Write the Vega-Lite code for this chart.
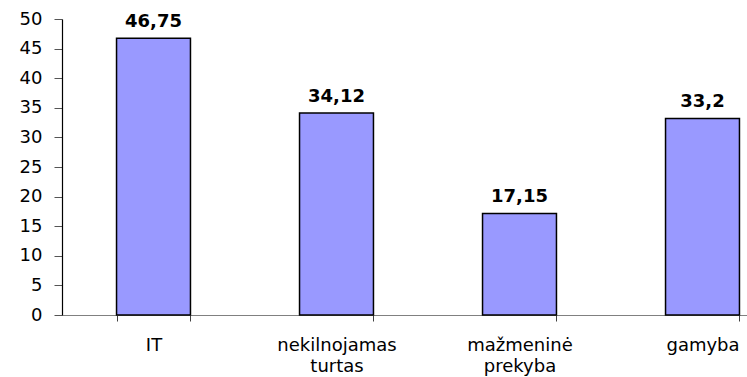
{
  "$schema": "https://vega.github.io/schema/vega-lite/v6.json",
  "width": 685,
  "height": 296,
  "autosize": {"type": "none"},
  "padding": {"left": 62, "top": 19, "right": 0, "bottom": 62},
  "background": "white",
  "config": {
    "view": {"stroke": null},
    "font": "DejaVu Sans",
    "locale": {
      "number": {"decimal": ",", "thousands": " ", "grouping": [3], "currency": ["", " €"]}
    }
  },
  "data": {
    "values": [
      {"sektorius": "IT", "reiksme": 46.75},
      {"sektorius": "nekilnojamas turtas", "reiksme": 34.12},
      {"sektorius": "mažmeninė prekyba", "reiksme": 17.15},
      {"sektorius": "gamyba", "reiksme": 33.2}
    ]
  },
  "encoding": {
    "x": {
      "field": "sektorius",
      "type": "nominal",
      "sort": null,
      "scale": {"range": [0, 732], "paddingInner": 0.596, "paddingOuter": 0.298},
      "axis": {
        "title": null,
        "labelAngle": 0,
        "labelExpr": "split(datum.label, ' ')",
        "labelFont": "DejaVu Sans",
        "labelFontSize": 18,
        "labelColor": "#000000",
        "labelPadding": 15,
        "labelLineHeight": 21,
        "tickBand": "extent",
        "tickSize": 6,
        "tickColor": "#404040",
        "domainColor": "#808080",
        "domainWidth": 1.2
      }
    },
    "y": {
      "field": "reiksme",
      "type": "quantitative",
      "scale": {"domain": [0, 50]},
      "axis": {
        "title": null,
        "values": [0, 5, 10, 15, 20, 25, 30, 35, 40, 45, 50],
        "grid": false,
        "labelFont": "DejaVu Sans",
        "labelFontSize": 18,
        "labelColor": "#000000",
        "labelPadding": 12,
        "tickSize": 8,
        "tickColor": "#555555",
        "domainColor": "#000000",
        "domainWidth": 1.2
      }
    }
  },
  "layer": [
    {
      "mark": {"type": "bar", "fill": "#9999FF", "stroke": "#000000", "strokeWidth": 1.5}
    },
    {
      "mark": {"type": "text", "baseline": "alphabetic", "dy": -11, "font": "DejaVu Sans", "fontSize": 18, "fontWeight": "bold", "color": "#000000"},
      "encoding": {
        "text": {"field": "reiksme", "type": "quantitative", "format": ".2~f"}
      }
    }
  ]
}
